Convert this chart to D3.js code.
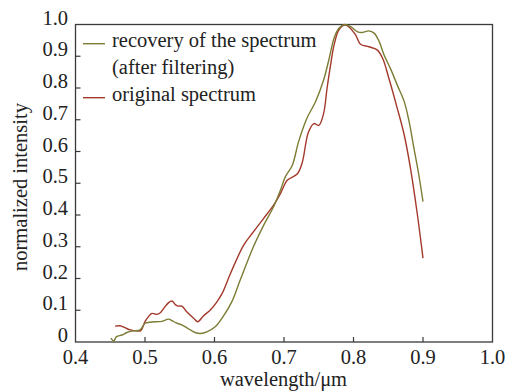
<!DOCTYPE html>
<html>
<head>
<meta charset="utf-8">
<script src="https://cdn.jsdelivr.net/npm/d3@7"></script>
</head>
<body style="margin:0;background:#fff">
<svg id="specfig" width="515" height="392"></svg>
<script>
// ---- data ----
const recoveryWavelength = [0.451,0.455,0.459,0.467,0.474,0.483,0.493,0.500,0.507,0.517,0.524,0.534,0.539,0.546,0.553,0.563,0.572,0.580,0.589,0.601,0.613,0.625,0.637,0.656,0.671,0.685,0.695,0.702,0.712,0.721,0.733,0.745,0.757,0.765,0.772,0.779,0.787,0.796,0.806,0.813,0.822,0.830,0.837,0.844,0.854,0.863,0.873,0.880,0.887,0.894,0.900];
const recoveryValue      = [0.012,0.003,0.017,0.022,0.030,0.035,0.038,0.059,0.062,0.064,0.065,0.072,0.067,0.059,0.054,0.041,0.030,0.027,0.032,0.048,0.082,0.127,0.195,0.300,0.369,0.426,0.479,0.521,0.557,0.631,0.705,0.755,0.825,0.893,0.957,0.988,1.000,0.993,0.977,0.975,0.980,0.972,0.946,0.904,0.857,0.809,0.757,0.694,0.610,0.526,0.442];

const originalWavelength = [0.457,0.464,0.471,0.479,0.488,0.494,0.500,0.505,0.510,0.517,0.522,0.527,0.534,0.539,0.544,0.548,0.553,0.560,0.570,0.576,0.584,0.594,0.603,0.611,0.623,0.642,0.656,0.671,0.685,0.695,0.705,0.719,0.726,0.735,0.743,0.750,0.757,0.762,0.767,0.772,0.779,0.787,0.793,0.803,0.810,0.822,0.834,0.842,0.851,0.863,0.873,0.882,0.892,0.900];
const originalValue      = [0.050,0.051,0.045,0.038,0.035,0.036,0.064,0.080,0.090,0.087,0.092,0.106,0.124,0.129,0.117,0.113,0.113,0.095,0.075,0.064,0.082,0.101,0.125,0.153,0.216,0.305,0.347,0.390,0.431,0.468,0.510,0.529,0.563,0.660,0.688,0.682,0.720,0.800,0.872,0.935,0.983,0.998,0.993,0.967,0.938,0.930,0.920,0.893,0.830,0.736,0.652,0.547,0.400,0.264];

const xTicks = [0.4,0.5,0.6,0.7,0.8,0.9,1.0];
const xTickLabels = ["0.4","0.5","0.6","0.7","0.8","0.9","1.0"];
const yTicks = [0,0.1,0.2,0.3,0.4,0.5,0.6,0.7,0.8,0.9,1.0];
const yTickLabels = ["0","0.1","0.2","0.3","0.4","0.5","0.6","0.7","0.8","0.9","1.0"];

const seriesNames = ["recovery of the spectrum", "(after filtering)", "original spectrum"];
const xTitle = "wavelength/\u03bcm";
const yTitle = "normalized intensity";

// ---- layout ----
const svg = d3.select("#specfig");
const mLeft = 75.5, mRight = 492.5, mTop = 24.5, mBottom = 342;
const green = "#7c7c34", red = "#a3392b", axisColor = "#3a3a3a";
const fs = 20.5;
const font = "'Liberation Serif', 'Times New Roman', serif";

function txt(sel) {
  return sel.append("text").attr("font-size", fs).attr("fill", "#222")
    .style("font-family", font, "important");
}

const x = d3.scaleLinear().domain([0.4, 1.0]).range([mLeft, mRight]);
const y = d3.scaleLinear().domain([0, 1.0]).range([mBottom, mTop]);

// frame
svg.append("rect").attr("x", mLeft).attr("y", mTop)
  .attr("width", mRight - mLeft).attr("height", mBottom - mTop)
  .attr("fill", "none").attr("stroke", axisColor).attr("stroke-width", 1.3);

// x ticks (inward)
const xAxis = svg.append("g");
xTicks.forEach((t, i) => {
  if (i > 0 && i < xTicks.length - 1) {
    xAxis.append("line").attr("x1", x(t)).attr("x2", x(t))
      .attr("y1", mBottom).attr("y2", mBottom - 5)
      .attr("stroke", axisColor).attr("stroke-width", 1.2);
  }
  txt(xAxis).attr("x", x(t)).attr("y", mBottom + 22)
    .attr("text-anchor", "middle").text(xTickLabels[i]);
});

// y ticks (inward), labels with baseline at the tick
const yAxis = svg.append("g");
yTicks.forEach((t, i) => {
  if (i > 0 && i < yTicks.length - 1) {
    yAxis.append("line").attr("x1", mLeft).attr("x2", mLeft + 5)
      .attr("y1", y(t)).attr("y2", y(t))
      .attr("stroke", axisColor).attr("stroke-width", 1.2);
  }
  txt(yAxis).attr("x", 68).attr("y", y(t))
    .attr("text-anchor", "end").text(yTickLabels[i]);
});

// titles
txt(svg).attr("x", 283.5).attr("y", 386).attr("text-anchor", "middle").text(xTitle);
txt(svg).attr("transform", "translate(27,187) rotate(-90)")
  .attr("text-anchor", "middle").text(yTitle);

// lines
const line = d3.line().x(d => x(d[0])).y(d => y(d[1])).curve(d3.curveCatmullRom.alpha(0.5));
const recData = recoveryWavelength.map((w, i) => [w, recoveryValue[i]]);
const orgData = originalWavelength.map((w, i) => [w, originalValue[i]]);

svg.append("path").datum(orgData).attr("d", line)
  .attr("fill", "none").attr("stroke", red).attr("stroke-width", 1.4);
svg.append("path").datum(recData).attr("d", line)
  .attr("fill", "none").attr("stroke", green).attr("stroke-width", 1.4);

// legend
const lg = svg.append("g");
lg.append("line").attr("x1", 83).attr("x2", 105).attr("y1", 43.7).attr("y2", 43.7)
  .attr("stroke", green).attr("stroke-width", 1.4);
txt(lg).attr("x", 112).attr("y", 47).text(seriesNames[0]);
txt(lg).attr("x", 112).attr("y", 74).text(seriesNames[1]);
lg.append("line").attr("x1", 83).attr("x2", 105).attr("y1", 97.7).attr("y2", 97.7)
  .attr("stroke", red).attr("stroke-width", 1.4);
txt(lg).attr("x", 112).attr("y", 101).text(seriesNames[2]);
</script>
</body>
</html>
